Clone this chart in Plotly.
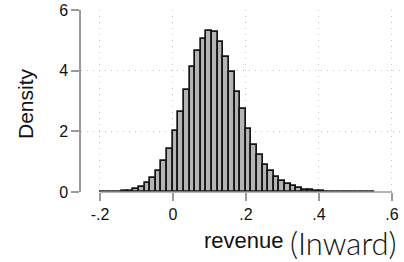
import plotly.graph_objects as go

# Histogram data
bin_start = -0.201
bin_width = 0.0154
density = [0.005, 0.006, 0.008, 0.012, 0.02, 0.04,
           0.09, 0.18, 0.31, 0.45, 0.69, 1.02, 1.41, 2.02,
           2.63, 3.36, 4.13, 4.65, 5.04, 5.31, 5.26, 4.96,
           4.46, 3.97, 3.31, 2.73, 2.09, 1.55, 1.22, 0.89,
           0.69, 0.50, 0.37, 0.25, 0.19, 0.12, 0.08, 0.05,
           0.03, 0.02, 0.015, 0.012, 0.01, 0.008, 0.007,
           0.006, 0.005, 0.004, 0.004]
x_tickvals = [-0.2, 0, 0.2, 0.4, 0.6]
x_ticktext = ["-.2", "0", ".2", ".4", ".6"]
y_tickvals = [0, 2, 4, 6]
y_ticktext = ["0", "2", "4", "6"]

centers = [bin_start + bin_width * (i + 0.5) for i in range(len(density))]

AX = "#9a9a9a"
GRID = "#c4c4c4"
FONT = "Liberation Sans"

fig = go.Figure()
fig.add_trace(go.Bar(
    x=centers, y=density, width=[bin_width] * len(density),
    marker=dict(color="#b4b4b4", line=dict(color="#151515", width=1.7)),
    hoverinfo="skip", showlegend=False,
))

fig.update_layout(
    width=404, height=262,
    margin=dict(l=81, r=0, t=10, b=70, autoexpand=False),
    paper_bgcolor="white", plot_bgcolor="white",
    bargap=0,
    font=dict(family=FONT, size=16, color="#111"),
    xaxis=dict(
        range=[-0.252, 0.633], tickvals=x_tickvals, ticktext=x_ticktext,
        showline=False, zeroline=False, automargin=False,
        ticks="outside", ticklen=8, tickwidth=1.5, tickcolor=AX,
        showgrid=True, gridcolor=GRID, gridwidth=1, griddash="1px,5px",
        tickfont=dict(family=FONT, size=16, color="#111"),
    ),
    yaxis=dict(
        range=[0, 6], tickvals=y_tickvals, ticktext=y_ticktext,
        showline=True, linecolor=AX, linewidth=1.5, zeroline=False,
        automargin=False,
        ticks="outside", ticklen=8, tickwidth=1.5, tickcolor=AX,
        showgrid=True, gridcolor=GRID, gridwidth=1, griddash="1px,5px",
        tickfont=dict(family=FONT, size=16, color="#111"),
    ),
    shapes=[dict(type="line", xref="x", yref="paper",
                 x0=x_tickvals[0], x1=x_tickvals[-1], y0=0, y1=0,
                 line=dict(color=AX, width=1.5))],
    annotations=[
        dict(text="Density", xref="paper", yref="paper",
             x=-0.1734, y=0.489, xanchor="center", yanchor="middle",
             textangle=-90, showarrow=False,
             font=dict(family=FONT, size=21, color="#111")),
        dict(text="revenue", xref="paper", yref="paper",
             x=0.5046, y=-0.269, xanchor="center", yanchor="middle",
             showarrow=False,
             font=dict(family=FONT, size=22, color="#111")),
        dict(text="(Inward)", xref="paper", yref="paper",
             x=0.813, y=-0.28, xanchor="center", yanchor="middle",
             showarrow=False,
             font=dict(family="Lato", size=31, color="#111", weight=300)),
    ],
)

fig.write_html("out.html",
               config={"displayModeBar": False},
               post_script="document.body.style.margin='0px';"
                           "document.body.style.overflow='hidden';")
